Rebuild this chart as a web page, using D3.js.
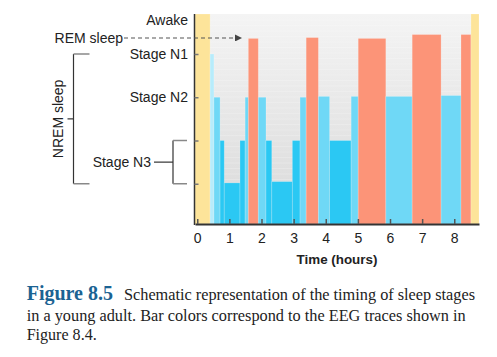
<!DOCTYPE html>
<html><head><meta charset="utf-8">
<script src="https://cdn.jsdelivr.net/npm/d3@7"></script>
<style>
html,body{margin:0;padding:0;background:#fff;}
svg{display:block;}
</style></head>
<body>
<svg id="chart" width="497" height="357"></svg>
<script>
// ---- data ----
const segStart = [-0.07, 0.40, 0.52, 0.71, 0.84, 1.33, 1.49, 1.59, 1.90, 2.14, 2.32, 2.96, 3.20, 3.39, 3.77, 4.12, 4.79, 5.01, 5.87, 6.69, 7.59, 8.21, 8.52];
const segEnd   = [0.40, 0.52, 0.71, 0.84, 1.33, 1.49, 1.59, 1.90, 2.14, 2.32, 2.96, 3.20, 3.39, 3.77, 4.12, 4.79, 5.01, 5.87, 6.69, 7.59, 8.21, 8.52, 8.77];
const segStage = ["Awake","N1","N2","N3","N3","N3","N2","REM","N2","N3","N3","N3","N2","REM","N2","N3","N2","REM","N2","REM","N2","REM","Awake"];
const segLevel = [4.93, 4.0, 3.0, 2.0, 1.02, 2.0, 3.0, 4.36, 3.0, 2.0, 1.05, 2.0, 3.0, 4.38, 3.02, 2.0, 3.02, 4.36, 3.02, 4.45, 3.04, 4.45, 4.93];
const xTicks = [0,1,2,3,4,5,6,7,8];
const yTickLevels = [1,2,3,4];
const stageLabels = ["Stage N1","Stage N2"];
const stageLabelLevels = [4,3];
const awakeLabel = "Awake", awakeLevel = 4.79;
const remLabel = "REM sleep", remLevel = 4.37;
const n3Label = "Stage N3", n3Levels = [1,2];
const nremLabel = "NREM sleep", nremLevels = [1,4];
const xTitle = "Time (hours)";
const capTitle = "Figure 8.5";
const capLines = ["Schematic representation of the timing of sleep stages",
                  "in a young adult. Bar colors correspond to the EEG traces shown in",
                  "Figure 8.4."];

const colors = {Awake:"#fde49a", N1:"#b7ecfb", N2:"#6fd8f6", N3:"#2bc8f3", REM:"#fc9478"};

// ---- layout ----
const svg = d3.select("#chart");
const pLeft = 195, pRight = 479, pTop = 14, pBottom = 224;
const x = d3.scaleLinear().domain([-0.07, 8.77]).range([pLeft, pRight]);
const y = d3.scaleLinear().domain([0, 4]).range([227, 54]);
const font = "'Liberation Sans', Arial, sans-serif";

// background gradient
const defs = svg.append("defs");
const grad = defs.append("linearGradient").attr("id","bg").attr("x1",0).attr("y1",0).attr("x2",0).attr("y2",1);
grad.append("stop").attr("offset","0%").attr("stop-color","#f4f4f4");
grad.append("stop").attr("offset","100%").attr("stop-color","#d9d9d9");
defs.append("marker").attr("id","arr").attr("viewBox","0 0 10 10").attr("refX",9).attr("refY",5)
  .attr("markerWidth",7).attr("markerHeight",7).attr("markerUnits","userSpaceOnUse").attr("orient","auto")
  .append("path").attr("d","M0,0 L10,5 L0,10 z").attr("fill","#444");

svg.append("rect").attr("x", x(-0.07)).attr("y", pTop).attr("width", x(8.52)-x(-0.07)).attr("height", pBottom-pTop)
  .attr("fill","url(#bg)");
// faint stripes
svg.append("g").selectAll("line").data(d3.range(pTop+6, pBottom, 5.5)).join("line")
  .attr("x1", x(-0.07)).attr("x2", x(8.52)).attr("y1", d=>d).attr("y2", d=>d)
  .attr("stroke","#fff").attr("stroke-opacity",0.25).attr("stroke-width",0.8);

// bars
const segs = segStart.map((s,i)=>({s, e:segEnd[i], stage:segStage[i], level:segLevel[i]}));
svg.append("g").selectAll("rect").data(segs).join("rect")
  .attr("x", d=>x(d.s)).attr("width", d=>x(d.e)-x(d.s))
  .attr("y", d=> d.stage==="Awake" ? pTop : y(d.level))
  .attr("height", d=> pBottom - (d.stage==="Awake" ? pTop : y(d.level)))
  .attr("fill", d=>colors[d.stage])
  .attr("stroke","#fff").attr("stroke-opacity",0.25).attr("stroke-width",0.8);

// x axis
const xAxis = d3.axisBottom(x).tickValues(xTicks).tickFormat(d3.format("d")).tickSizeInner(-5).tickSizeOuter(0).tickPadding(9);
const gx = svg.append("g").attr("transform",`translate(0,${pBottom})`).call(xAxis);
gx.select(".domain").attr("stroke","#333").attr("stroke-width",2);
gx.selectAll(".tick line").attr("stroke","#555").attr("stroke-width",1.5);
gx.selectAll(".tick text").attr("font-family",font).attr("font-size",14).attr("fill","#222");

// y axis
const yAxis = d3.axisLeft(y).tickValues(yTickLevels).tickFormat("").tickSizeInner(-4).tickSizeOuter(0);
const gy = svg.append("g").attr("transform",`translate(${pLeft-0.5},0)`).call(yAxis);
gy.select(".domain").attr("d", `M0,${pTop}V${pBottom+1}`).attr("stroke","#333").attr("stroke-width",1.5);
gy.selectAll(".tick line").attr("stroke","#777").attr("stroke-width",1.5);

// stage labels
const lab = svg.append("g").attr("font-family",font).attr("font-size",14).attr("fill","#222");
lab.selectAll("text.st").data(stageLabels).join("text").attr("class","st")
  .attr("x",188).attr("y",(d,i)=>y(stageLabelLevels[i])).attr("dy","0.35em").attr("text-anchor","end").text(d=>d);
lab.append("text").attr("x",188).attr("y",y(awakeLevel)).attr("dy","0.35em").attr("text-anchor","end").text(awakeLabel);
lab.append("text").attr("x",123).attr("y",y(remLevel)).attr("dy","0.35em").attr("text-anchor","end").text(remLabel);
lab.append("text").attr("x",151).attr("y",y(d3.mean(n3Levels))).attr("dy","0.35em").attr("text-anchor","end").text(n3Label);
lab.append("text").attr("transform",`translate(58,${y(d3.mean(nremLevels))}) rotate(-90)`).attr("dy","0.35em")
  .attr("text-anchor","middle").text(nremLabel);

// REM dashed arrow
svg.append("line").attr("x1",124).attr("x2",x(1.59)-7).attr("y1",y(remLevel)).attr("y2",y(remLevel))
  .attr("stroke","#555").attr("stroke-width",1.2).attr("stroke-dasharray","4,3").attr("marker-end","url(#arr)");

// N3 bracket
const br = svg.append("g").attr("fill","none");
br.append("line").attr("x1",154).attr("x2",173).attr("y1",y(d3.mean(n3Levels))).attr("y2",y(d3.mean(n3Levels))).attr("stroke","#333").attr("stroke-width",1.2);
br.append("line").attr("x1",173).attr("x2",173).attr("y1",y(n3Levels[1])).attr("y2",y(n3Levels[0])).attr("stroke","#333").attr("stroke-width",1.2);
br.selectAll("line.n3t").data(n3Levels).join("line").attr("class","n3t")
  .attr("x1",173).attr("x2",187).attr("y1",d=>y(d)).attr("y2",d=>y(d)).attr("stroke","#888").attr("stroke-width",1.5);
// NREM bracket
br.append("line").attr("x1",73.5).attr("x2",73.5).attr("y1",y(nremLevels[1])).attr("y2",y(nremLevels[0])).attr("stroke","#333").attr("stroke-width",1.2);
br.selectAll("line.nrt").data(nremLevels).join("line").attr("class","nrt")
  .attr("x1",73.5).attr("x2",89.5).attr("y1",d=>y(d)).attr("y2",d=>y(d)).attr("stroke","#888").attr("stroke-width",1.5);
br.append("line").attr("x1",67.5).attr("x2",73.5).attr("y1",y(d3.mean(nremLevels))).attr("y2",y(d3.mean(nremLevels))).attr("stroke","#333").attr("stroke-width",1.2);

// x title
svg.append("text").attr("x",(pLeft+pRight)/2).attr("y",264).attr("text-anchor","middle")
  .attr("font-family",font).attr("font-weight","bold").attr("font-size",13.4).attr("fill","#222").text(xTitle);

// caption
const serif = "'Liberation Serif','Times New Roman',serif";
svg.append("text").attr("x",26.7).attr("y",300.3).attr("font-family",serif).attr("font-weight","bold")
  .attr("font-size",20).attr("fill","#1b6393").text(capTitle);
const capX = [124, 26.7, 26.7], capY = [300.3, 320.7, 339.5], capW = [351, 439, 70];
svg.append("g").selectAll("text").data(capLines).join("text")
  .attr("x",(d,i)=>capX[i]).attr("y",(d,i)=>capY[i]).attr("font-family",serif).attr("font-size",16).attr("fill","#222")
  .attr("textLength",(d,i)=>capW[i]).attr("lengthAdjust","spacingAndGlyphs").text(d=>d);
</script>
</body></html>
